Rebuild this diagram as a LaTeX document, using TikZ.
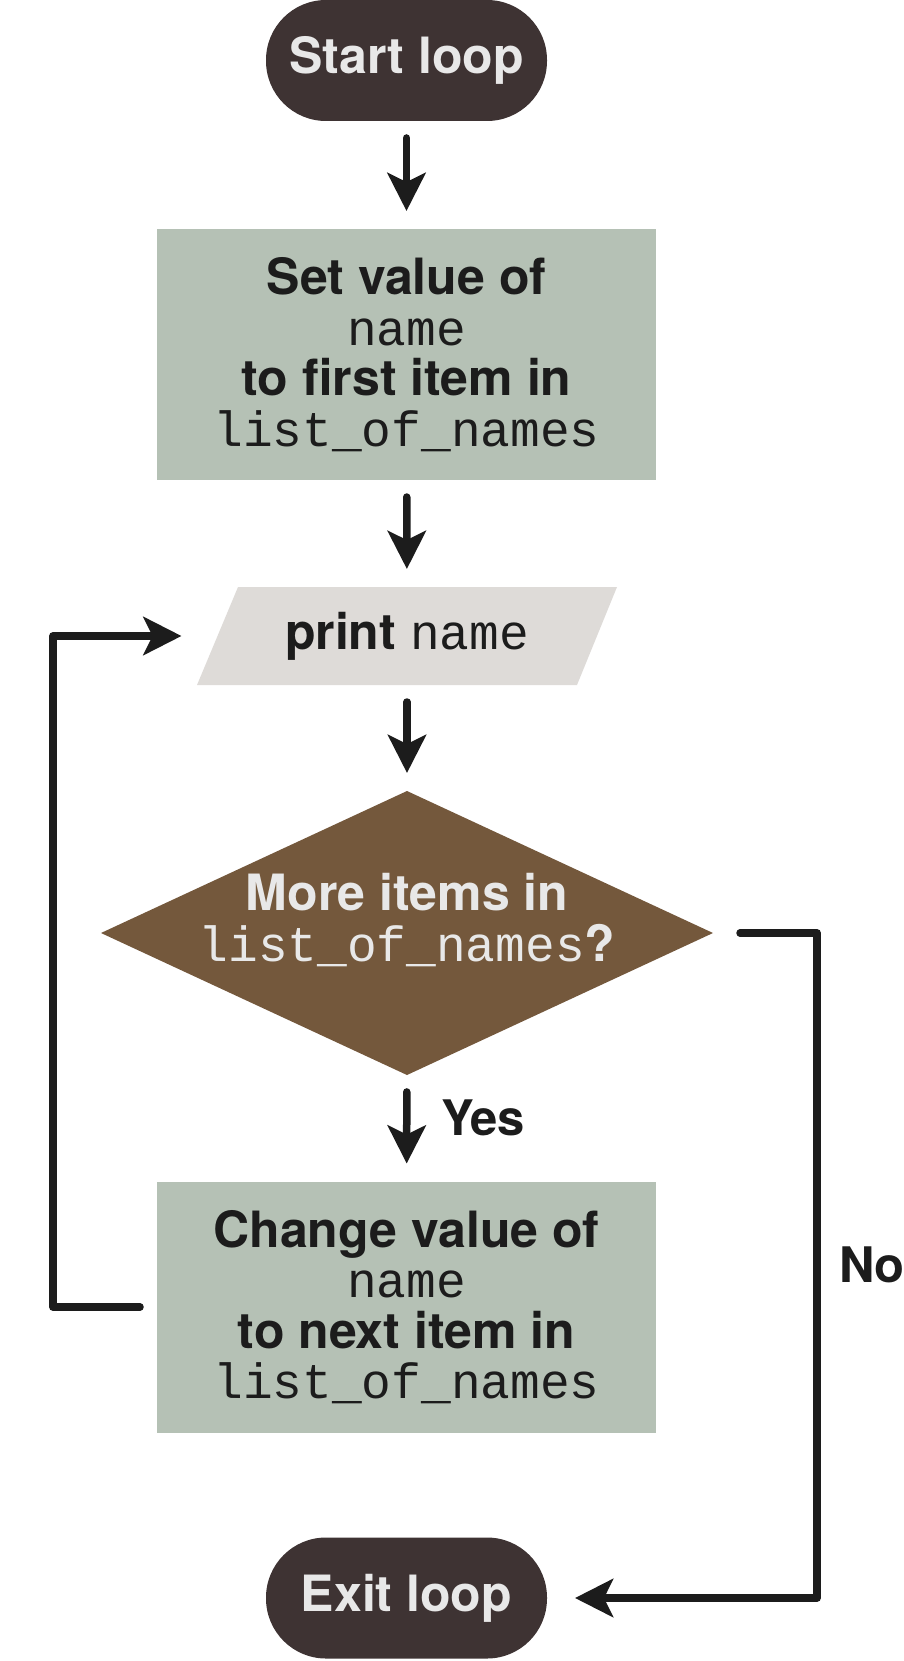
\documentclass[tikz,border=0pt]{standalone}
\usepackage{fontspec}
\setmainfont{TeX Gyre Heros}
\setmonofont[Scale=0.99]{Liberation Mono}
\usetikzlibrary{arrows.meta,shapes.geometric,calc}
\definecolor{pillc}{HTML}{3E3333}
\definecolor{sage}{HTML}{B5C1B5}
\definecolor{parac}{HTML}{DEDBD8}
\definecolor{brownd}{HTML}{74583C}
\definecolor{ink}{HTML}{1C1C1C}
\definecolor{lightc}{HTML}{E8E8E8}
\begin{document}
\begin{tikzpicture}[x=1pt,y=-1pt,
  pillbox/.style={fill=pillc, rounded corners=60pt, minimum width=281pt, minimum height=121pt, text=lightc, font=\fontsize{50}{52}\selectfont\bfseries, inner sep=0pt, outer sep=0pt},
  procbox/.style={fill=sage, minimum width=499pt, minimum height=251pt, text=ink, align=center, font=\fontsize{50}{50.5}\selectfont, inner sep=0pt, outer sep=0pt},
  arr/.style={draw=ink, line width=7.5pt, line cap=round, line join=round, -{Stealth[length=38pt,width=38pt,inset=9pt]}},
  lbl/.style={text=ink, font=\fontsize{49}{51}\selectfont\bfseries, inner sep=0pt, outer sep=0pt}
]
\useasboundingbox (0,0) rectangle (903,1661);
\node[pillbox] (start) at (406.5,60.5) {Start loop};
\node[procbox] (set) at (406.5,354.5) {\textbf{Set value of}\\\texttt{name}\\\textbf{to first item in}\\\texttt{list\_of\_names}};
\fill[parac] (197,685) -- (238,587) -- (617,587) -- (577,685) -- cycle;
\node[lbl, minimum width=379pt, minimum height=98pt, font=\fontsize{50}{52}\selectfont\bfseries] (print) at (407,636) {print \mdseries\ttfamily name};
\coordinate (pin) at (217.5,636);
\node[diamond, fill=brownd, minimum width=612pt, minimum height=284pt, aspect=2.155, inner sep=0pt, outer sep=0pt] (dec) at (407,933) {};
\node[text=lightc, align=center, font=\fontsize{50}{51}\selectfont, inner sep=0pt] (dectext) at (407,920) {\textbf{More items in}\\\texttt{list\_of\_names}\textbf{?}};
\node[procbox] (chg) at (406.5,1307) {\textbf{Change value of}\\\texttt{name}\\\textbf{to next item in}\\\texttt{list\_of\_names}};
\node[pillbox] (exit) at (406.5,1598) {Exit loop};
\draw[arr, shorten <=17pt, shorten >=18pt] (start) -- (set);
\draw[arr, shorten <=17pt, shorten >=18pt] (set) -- (print);
\draw[arr, shorten <=17pt, shorten >=18pt] (print) -- (dec);
\draw[arr, shorten <=17pt, shorten >=18pt] (dec) -- (chg);
\node[lbl, anchor=base west] (yes) at (441,1135) {Yes};
\node[lbl, anchor=base west] (no) at (839,1282) {No};
\draw[arr, shorten <=17pt, shorten >=36pt] (chg.west) -- ++(-104,0) |- (pin);
\draw[arr, shorten <=27pt, shorten >=28pt] (dec.east) -- ++(104,0) |- (exit.east);
\end{tikzpicture}
\end{document}
